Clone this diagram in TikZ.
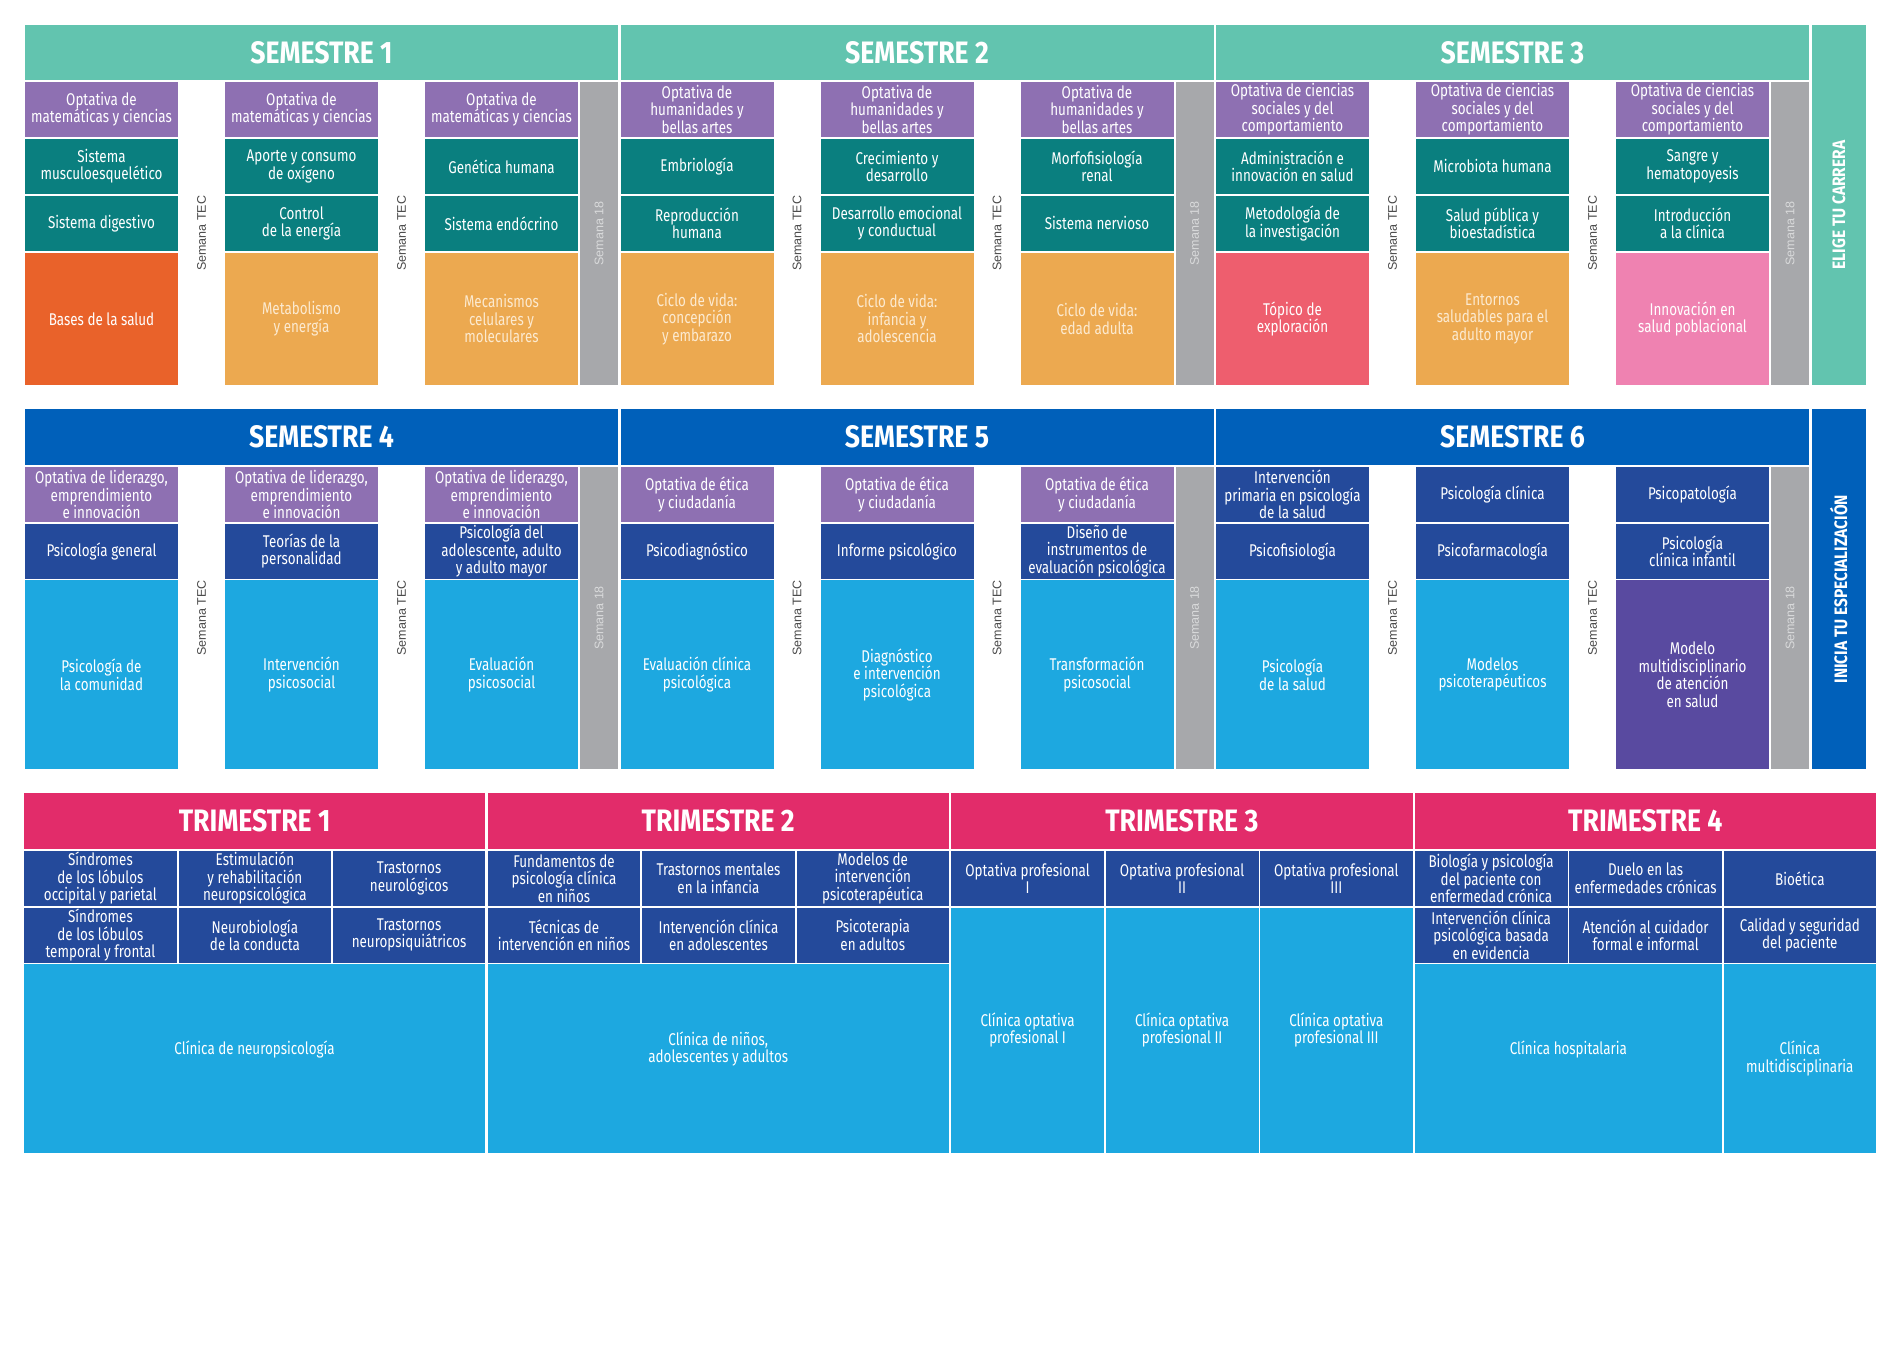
\documentclass[tikz,border=0pt]{standalone}
\usepackage{fontspec}
\setmainfont{Fira Sans}[FakeStretch=0.79]
\newfontfamily\hdfont{Fira Sans}[FakeStretch=0.86]
\newfontfamily\arialf{Liberation Sans}
\definecolor{cTealH}{HTML}{62C4AF}
\definecolor{cPur}{HTML}{8E70B2}
\definecolor{cTeal}{HTML}{0A7F7F}
\definecolor{cOrg}{HTML}{E9622A}
\definecolor{cLorg}{HTML}{ECA950}
\definecolor{cGray}{HTML}{A7A8AB}
\definecolor{cRed}{HTML}{EE5E6E}
\definecolor{cPink}{HTML}{EF82B1}
\definecolor{cBlueH}{HTML}{0060BA}
\definecolor{cNavy}{HTML}{244A9B}
\definecolor{cLB}{HTML}{1DA8E0}
\definecolor{cDP}{HTML}{594AA0}
\definecolor{cMag}{HTML}{E22C6A}
\definecolor{cTec}{HTML}{4A4A4A}
\definecolor{cSt}{HTML}{D9DADB}
\definecolor{cCream}{HTML}{FCEAD0}
\newcommand{\cb}[7]{\node[cell,#6,minimum width={(#3-(#2))*1pt},minimum height={(#5-(#4))*1pt}] (#1) at ({((#2)+(#3))/2},{((#4)+(#5))/2}) {#7};}
\newcommand{\rApur}[4]{\cb{#1}{#2}{#2+153}{81.8}{137}{#3}{#4}}
\newcommand{\rAte}[4]{\cb{#1}{#2}{#2+153}{138.8}{194}{#3}{#4}}
\newcommand{\rAtf}[4]{\cb{#1}{#2}{#2+153}{195.8}{251}{#3}{#4}}
\newcommand{\rAbot}[4]{\cb{#1}{#2}{#2+153}{252.8}{385}{#3}{#4}}
\newcommand{\rBpur}[4]{\cb{#1}{#2}{#2+153}{467}{522}{#3}{#4}}
\newcommand{\rBnav}[4]{\cb{#1}{#2}{#2+153}{523.8}{578.5}{#3}{#4}}
\newcommand{\rBbot}[4]{\cb{#1}{#2}{#2+153}{580.3}{769}{#3}{#4}}
\newcommand{\rCa}[5]{\cb{#1}{#2}{#3}{850.8}{905.8}{#4}{#5}}
\newcommand{\rCb}[5]{\cb{#1}{#2}{#3}{907.6}{962.5}{#4}{#5}}
\begin{document}
\begin{tikzpicture}[x=1pt,y=-1pt,
  cell/.style={draw=none,inner sep=0pt,outer sep=0pt,align=center,text=white,font=\fontsize{17}{17.5}\selectfont},
  txtonly/.style={inner sep=0pt,align=center,text=white,font=\fontsize{17}{17.5}\selectfont},
  hd/.style={font=\hdfont\bfseries\fontsize{31}{31}\selectfont},
  fth/.style={fill=cTealH},
  fbh/.style={fill=cBlueH},
  fmag/.style={fill=cMag},
  fpur/.style={fill=cPur},
  fteal/.style={fill=cTeal},
  forg/.style={fill=cOrg},
  florg/.style={fill=cLorg,text=cCream},
  fred/.style={fill=cRed},
  fpink/.style={fill=cPink},
  fnavy/.style={fill=cNavy},
  flb/.style={fill=cLB},
  fdp/.style={fill=cDP},
  tec/.style={rotate=90,inner sep=0pt,text=cTec,font=\arialf\fontsize{12.5}{12.5}\selectfont},
  sem/.style={rotate=90,inner sep=0pt,outer sep=0pt,fill=cGray,text=cSt,font=\arialf\fontsize{12.5}{12.5}\selectfont},
  side/.style={rotate=90,inner sep=0pt,outer sep=0pt,text=white,font=\hdfont\bfseries\fontsize{18}{18}\selectfont}
]
\useasboundingbox (0,0) rectangle (1900,1372);

% ===== Row 1 : semesters 1-3 =====
\cb{h1}{25}{618}{25}{80}{fth,hd}{SEMESTRE 1}
\cb{h2}{620.5}{1213.5}{25}{80}{fth,hd}{SEMESTRE 2}
\cb{h3}{1216}{1809}{25}{80}{fth,hd}{SEMESTRE 3}
\node[side,fill=cTealH,minimum width=360pt,minimum height=54.5pt] (elige) at (1838.75,205) {ELIGE TU CARRERA};

% semester 1
\rApur{s1p1}{25}{fpur}{Optativa de\\matemáticas y ciencias}
\rApur{s1p2}{225}{fpur}{Optativa de\\matemáticas y ciencias}
\rApur{s1p3}{425}{fpur}{Optativa de\\matemáticas y ciencias}
\rAte{s1a1}{25}{fteal}{Sistema\\musculoesquelético}
\rAte{s1a2}{225}{fteal}{Aporte y consumo\\de oxígeno}
\rAte{s1a3}{425}{fteal}{Genética humana}
\rAtf{s1b1}{25}{fteal}{Sistema digestivo}
\rAtf{s1b2}{225}{fteal}{Control\\de la energía}
\rAtf{s1b3}{425}{fteal}{Sistema endócrino}
\rAbot{s1c1}{25}{forg}{Bases de la salud}
\rAbot{s1c2}{225}{florg}{Metabolismo\\y energía}
\rAbot{s1c3}{425}{florg}{Mecanismos\\celulares y\\moleculares}
\node[tec] (tA1) at (201.5,233.4) {Semana TEC};
\node[tec] (tA2) at (401.5,233.4) {Semana TEC};
\node[sem,minimum width=303.2pt,minimum height=38pt] (sA1) at (599,233.4) {Semana 18};

% semester 2
\rApur{s2p1}{620.5}{fpur}{Optativa de\\humanidades y\\bellas artes}
\rApur{s2p2}{820.5}{fpur}{Optativa de\\humanidades y\\bellas artes}
\rApur{s2p3}{1020.5}{fpur}{Optativa de\\humanidades y\\bellas artes}
\rAte{s2a1}{620.5}{fteal}{Embriología}
\rAte{s2a2}{820.5}{fteal}{Crecimiento y\\desarrollo}
\rAte{s2a3}{1020.5}{fteal}{Morfofisiología\\renal}
\rAtf{s2b1}{620.5}{fteal}{Reproducción\\humana}
\rAtf{s2b2}{820.5}{fteal}{Desarrollo emocional\\y conductual}
\rAtf{s2b3}{1020.5}{fteal}{Sistema nervioso}
\rAbot{s2c1}{620.5}{florg}{Ciclo de vida:\\concepción\\y embarazo}
\rAbot{s2c2}{820.5}{florg}{Ciclo de vida:\\infancia y\\adolescencia}
\rAbot{s2c3}{1020.5}{florg}{Ciclo de vida:\\edad adulta}
\node[tec] (tA3) at (797,233.4) {Semana TEC};
\node[tec] (tA4) at (997,233.4) {Semana TEC};
\node[sem,minimum width=303.2pt,minimum height=38pt] (sA2) at (1194.5,233.4) {Semana 18};

% semester 3
\rApur{s3p1}{1216}{fpur}{Optativa de ciencias\\sociales y del\\comportamiento}
\rApur{s3p2}{1416}{fpur}{Optativa de ciencias\\sociales y del\\comportamiento}
\rApur{s3p3}{1616}{fpur}{Optativa de ciencias\\sociales y del\\comportamiento}
\rAte{s3a1}{1216}{fteal}{Administración e\\innovación en salud}
\rAte{s3a2}{1416}{fteal}{Microbiota humana}
\rAte{s3a3}{1616}{fteal}{Sangre y\\hematopoyesis}
\rAtf{s3b1}{1216}{fteal}{Metodología de\\la investigación}
\rAtf{s3b2}{1416}{fteal}{Salud pública y\\bioestadística}
\rAtf{s3b3}{1616}{fteal}{Introducción\\a la clínica}
\rAbot{s3c1}{1216}{fred}{Tópico de\\exploración}
\rAbot{s3c2}{1416}{florg}{Entornos\\saludables para el\\adulto mayor}
\rAbot{s3c3}{1616}{fpink}{Innovación en\\salud poblacional}
\node[tec] (tA5) at (1392.5,233.4) {Semana TEC};
\node[tec] (tA6) at (1592.5,233.4) {Semana TEC};
\node[sem,minimum width=303.2pt,minimum height=38pt] (sA3) at (1790,233.4) {Semana 18};

% ===== Row 2 : semesters 4-6 =====
\cb{h4}{25}{618}{409.3}{465.2}{fbh,hd}{SEMESTRE 4}
\cb{h5}{620.5}{1213.5}{409.3}{465.2}{fbh,hd}{SEMESTRE 5}
\cb{h6}{1216}{1809}{409.3}{465.2}{fbh,hd}{SEMESTRE 6}
\node[side,fill=cBlueH,minimum width=359.7pt,minimum height=54.5pt] (inicia) at (1838.75,589.15) {INICIA TU ESPECIALIZACIÓN};

% semester 4
\rBpur{s4p1}{25}{fpur}{Optativa de liderazgo,\\emprendimiento\\e innovación}
\rBpur{s4p2}{225}{fpur}{Optativa de liderazgo,\\emprendimiento\\e innovación}
\rBpur{s4p3}{425}{fpur}{Optativa de liderazgo,\\emprendimiento\\e innovación}
\rBnav{s4n1}{25}{fnavy}{Psicología general}
\rBnav{s4n2}{225}{fnavy}{Teorías de la\\personalidad}
\rBnav{s4n3}{425}{fnavy}{Psicología del\\adolescente, adulto\\y adulto mayor}
\rBbot{s4b1}{25}{flb}{Psicología de\\la comunidad}
\rBbot{s4b2}{225}{flb}{Intervención\\psicosocial}
\rBbot{s4b3}{425}{flb}{Evaluación\\psicosocial}
\node[tec] (tB1) at (201.5,618) {Semana TEC};
\node[tec] (tB2) at (401.5,618) {Semana TEC};
\node[sem,minimum width=302pt,minimum height=38pt] (sB1) at (599,618) {Semana 18};

% semester 5
\rBpur{s5p1}{620.5}{fpur}{Optativa de ética\\y ciudadanía}
\rBpur{s5p2}{820.5}{fpur}{Optativa de ética\\y ciudadanía}
\rBpur{s5p3}{1020.5}{fpur}{Optativa de ética\\y ciudadanía}
\rBnav{s5n1}{620.5}{fnavy}{Psicodiagnóstico}
\rBnav{s5n2}{820.5}{fnavy}{Informe psicológico}
\rBnav{s5n3}{1020.5}{fnavy}{Diseño de\\instrumentos de\\evaluación psicológica}
\rBbot{s5b1}{620.5}{flb}{Evaluación clínica\\psicológica}
\rBbot{s5b2}{820.5}{flb}{Diagnóstico\\e intervención\\psicológica}
\rBbot{s5b3}{1020.5}{flb}{Transformación\\psicosocial}
\node[tec] (tB3) at (797,618) {Semana TEC};
\node[tec] (tB4) at (997,618) {Semana TEC};
\node[sem,minimum width=302pt,minimum height=38pt] (sB2) at (1194.5,618) {Semana 18};

% semester 6
\rBpur{s6p1}{1216}{fnavy}{Intervención\\primaria en psicología\\de la salud}
\rBpur{s6p2}{1416}{fnavy}{Psicología clínica}
\rBpur{s6p3}{1616}{fnavy}{Psicopatología}
\rBnav{s6n1}{1216}{fnavy}{Psicofisiología}
\rBnav{s6n2}{1416}{fnavy}{Psicofarmacología}
\rBnav{s6n3}{1616}{fnavy}{Psicología\\clínica infantil}
\rBbot{s6b1}{1216}{flb}{Psicología\\de la salud}
\rBbot{s6b2}{1416}{flb}{Modelos\\psicoterapéuticos}
\rBbot{s6b3}{1616}{fdp}{Modelo\\multidisciplinario\\de atención\\en salud}
\node[tec] (tB5) at (1392.5,618) {Semana TEC};
\node[tec] (tB6) at (1592.5,618) {Semana TEC};
\node[sem,minimum width=302pt,minimum height=38pt] (sB3) at (1790,618) {Semana 18};

% ===== Row 3 : trimesters =====
\cb{th1}{24}{485.3}{793.3}{849}{fmag,hd}{TRIMESTRE 1}
\cb{th2}{487.6}{948.9}{793.3}{849}{fmag,hd}{TRIMESTRE 2}
\cb{th3}{951.2}{1412.5}{793.3}{849}{fmag,hd}{TRIMESTRE 3}
\cb{th4}{1414.7}{1876}{793.3}{849}{fmag,hd}{TRIMESTRE 4}

% trimester 1
\rCa{t1a1}{24}{176.8}{fnavy}{Síndromes\\de los lóbulos\\occipital y parietal}
\rCa{t1a2}{178.5}{331.3}{fnavy}{Estimulación\\y rehabilitación\\neuropsicológica}
\rCa{t1a3}{333}{485.3}{fnavy}{Trastornos\\neurológicos}
\rCb{t1b1}{24}{176.8}{fnavy}{Síndromes\\de los lóbulos\\temporal y frontal}
\rCb{t1b2}{178.5}{331.3}{fnavy}{Neurobiología\\de la conducta}
\rCb{t1b3}{333}{485.3}{fnavy}{Trastornos\\neuropsiquiátricos}
\cb{t1c}{24}{485.3}{964.3}{1152.7}{flb}{}
\node[txtonly] (t1ct) at (254.6,1049) {Clínica de neuropsicología};

% trimester 2
\rCa{t2a1}{487.6}{640.4}{fnavy}{Fundamentos de\\psicología clínica\\en niños}
\rCa{t2a2}{642.1}{794.9}{fnavy}{Trastornos mentales\\en la infancia}
\rCa{t2a3}{796.6}{948.9}{fnavy}{Modelos de\\intervención\\psicoterapéutica}
\rCb{t2b1}{487.6}{640.4}{fnavy}{Técnicas de\\intervención en niños}
\rCb{t2b2}{642.1}{794.9}{fnavy}{Intervención clínica\\en adolescentes}
\rCb{t2b3}{796.6}{948.9}{fnavy}{Psicoterapia\\en adultos}
\cb{t2c}{487.6}{948.9}{964.3}{1152.7}{flb}{}
\node[txtonly] (t2ct) at (718.25,1049) {Clínica de niños,\\adolescentes y adultos};

% trimester 3
\rCa{t3a1}{951.2}{1104}{fnavy}{Optativa profesional\\I}
\rCa{t3a2}{1105.7}{1258.5}{fnavy}{Optativa profesional\\II}
\rCa{t3a3}{1260.2}{1412.5}{fnavy}{Optativa profesional\\III}
\cb{t3c1}{951.2}{1104}{907.6}{1152.7}{flb}{Clínica optativa\\profesional I}
\cb{t3c2}{1105.7}{1258.5}{907.6}{1152.7}{flb}{Clínica optativa\\profesional II}
\cb{t3c3}{1260.2}{1412.5}{907.6}{1152.7}{flb}{Clínica optativa\\profesional III}

% trimester 4
\rCa{t4a1}{1414.7}{1567.5}{fnavy}{Biología y psicología\\del paciente con\\enfermedad crónica}
\rCa{t4a2}{1569.2}{1722}{fnavy}{Duelo en las\\enfermedades crónicas}
\rCa{t4a3}{1723.7}{1876}{fnavy}{Bioética}
\rCb{t4b1}{1414.7}{1567.5}{fnavy}{Intervención clínica\\psicológica basada\\en evidencia}
\rCb{t4b2}{1569.2}{1722}{fnavy}{Atención al cuidador\\formal e informal}
\rCb{t4b3}{1723.7}{1876}{fnavy}{Calidad y seguridad\\del paciente}
\cb{t4c1}{1414.7}{1722}{964.3}{1152.7}{flb}{}
\node[txtonly] (t4c1t) at (1568.35,1049) {Clínica hospitalaria};
\cb{t4c2}{1723.7}{1876}{964.3}{1152.7}{flb}{Clínica\\multidisciplinaria}
\end{tikzpicture}
\end{document}
